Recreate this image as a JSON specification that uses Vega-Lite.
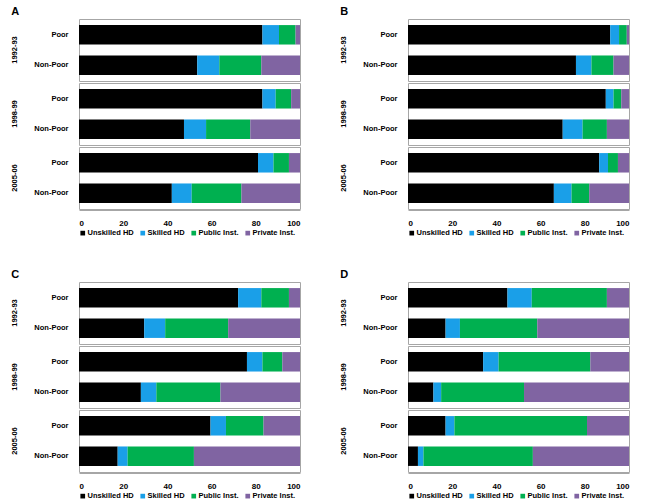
{
  "$schema": "https://vega.github.io/schema/vega-lite/v6.json",
  "background": "white",
  "padding": {"left": 11, "top": 5, "right": 5, "bottom": 5},
  "datasets": {
    "all": [
      {"panel": "A", "year": "1992-93", "group": "Poor", "Unskilled HD": 83, "Skilled HD": 7.5, "Public Inst.": 7.5, "Private Inst.": 2},
      {"panel": "A", "year": "1992-93", "group": "Non-Poor", "Unskilled HD": 53.5, "Skilled HD": 10, "Public Inst.": 19, "Private Inst.": 17.5},
      {"panel": "A", "year": "1998-99", "group": "Poor", "Unskilled HD": 83, "Skilled HD": 6, "Public Inst.": 7, "Private Inst.": 4},
      {"panel": "A", "year": "1998-99", "group": "Non-Poor", "Unskilled HD": 47.5, "Skilled HD": 10, "Public Inst.": 20, "Private Inst.": 22.5},
      {"panel": "A", "year": "2005-06", "group": "Poor", "Unskilled HD": 81, "Skilled HD": 7, "Public Inst.": 7, "Private Inst.": 5},
      {"panel": "A", "year": "2005-06", "group": "Non-Poor", "Unskilled HD": 42, "Skilled HD": 9, "Public Inst.": 22.5, "Private Inst.": 26.5},
      {"panel": "B", "year": "1992-93", "group": "Poor", "Unskilled HD": 91.5, "Skilled HD": 4, "Public Inst.": 3.5, "Private Inst.": 1},
      {"panel": "B", "year": "1992-93", "group": "Non-Poor", "Unskilled HD": 76, "Skilled HD": 7, "Public Inst.": 10, "Private Inst.": 7},
      {"panel": "B", "year": "1998-99", "group": "Poor", "Unskilled HD": 89.5, "Skilled HD": 3.5, "Public Inst.": 3.5, "Private Inst.": 3.5},
      {"panel": "B", "year": "1998-99", "group": "Non-Poor", "Unskilled HD": 70, "Skilled HD": 9, "Public Inst.": 11, "Private Inst.": 10},
      {"panel": "B", "year": "2005-06", "group": "Poor", "Unskilled HD": 86.5, "Skilled HD": 4, "Public Inst.": 4.5, "Private Inst.": 5},
      {"panel": "B", "year": "2005-06", "group": "Non-Poor", "Unskilled HD": 66, "Skilled HD": 8, "Public Inst.": 8, "Private Inst.": 18},
      {"panel": "C", "year": "1992-93", "group": "Poor", "Unskilled HD": 72, "Skilled HD": 10.5, "Public Inst.": 12.5, "Private Inst.": 5},
      {"panel": "C", "year": "1992-93", "group": "Non-Poor", "Unskilled HD": 29.5, "Skilled HD": 9.5, "Public Inst.": 28.5, "Private Inst.": 32.5},
      {"panel": "C", "year": "1998-99", "group": "Poor", "Unskilled HD": 76, "Skilled HD": 7, "Public Inst.": 9, "Private Inst.": 8},
      {"panel": "C", "year": "1998-99", "group": "Non-Poor", "Unskilled HD": 28, "Skilled HD": 7, "Public Inst.": 29, "Private Inst.": 36},
      {"panel": "C", "year": "2005-06", "group": "Poor", "Unskilled HD": 59.5, "Skilled HD": 7, "Public Inst.": 17, "Private Inst.": 16.5},
      {"panel": "C", "year": "2005-06", "group": "Non-Poor", "Unskilled HD": 17.5, "Skilled HD": 4.5, "Public Inst.": 30, "Private Inst.": 48},
      {"panel": "D", "year": "1992-93", "group": "Poor", "Unskilled HD": 45, "Skilled HD": 11, "Public Inst.": 34, "Private Inst.": 10},
      {"panel": "D", "year": "1992-93", "group": "Non-Poor", "Unskilled HD": 17, "Skilled HD": 6.5, "Public Inst.": 35, "Private Inst.": 41.5},
      {"panel": "D", "year": "1998-99", "group": "Poor", "Unskilled HD": 34, "Skilled HD": 7, "Public Inst.": 41.5, "Private Inst.": 17.5},
      {"panel": "D", "year": "1998-99", "group": "Non-Poor", "Unskilled HD": 11.5, "Skilled HD": 3.5, "Public Inst.": 37.5, "Private Inst.": 47.5},
      {"panel": "D", "year": "2005-06", "group": "Poor", "Unskilled HD": 17, "Skilled HD": 4, "Public Inst.": 60, "Private Inst.": 19},
      {"panel": "D", "year": "2005-06", "group": "Non-Poor", "Unskilled HD": 4.5, "Skilled HD": 2.5, "Public Inst.": 49.5, "Private Inst.": 43.5}
    ]
  },
  "columns": 2,
  "spacing": {"row": 31, "column": 39},
  "resolve": {"scale": {"color": "independent"}, "legend": {"color": "independent"}},
  "concat": [
    {
      "title": {"text": "A"},
      "data": {"name": "all"},
      "transform": [
        {"filter": "datum.panel === 'A'"},
        {"fold": ["Unskilled HD", "Skilled HD", "Public Inst\\.", "Private Inst\\."], "as": ["cat", "value"]}
      ],
      "facet": {"row": {"field": "year", "type": "nominal", "header": {"title": null}}},
      "spacing": 0,
      "spec": {
        "width": 221, "height": 62,
        "mark": {"type": "bar"},
        "encoding": {
          "y": {"field": "group", "type": "nominal", "sort": ["Poor", "Non-Poor"], "axis": {"title": null}, "scale": {"paddingInner": 0.36, "paddingOuter": 0.2}},
          "x": {"field": "value", "type": "quantitative", "stack": "zero", "scale": {"domain": [0, 100]}, "axis": {"title": null, "values": [0, 20, 40, 60, 80, 100]}},
          "color": {"field": "cat", "type": "nominal", "scale": {"domain": ["Unskilled HD", "Skilled HD", "Public Inst.", "Private Inst."], "range": ["#000000", "#1a9fe8", "#00b050", "#8064a2"]}, "legend": {"title": null, "orient": "bottom", "direction": "horizontal"}},
          "order": {"field": "cat", "sort": "descending"}
        }
      }
    },
    {
      "title": {"text": "B"},
      "data": {"name": "all"},
      "transform": [
        {"filter": "datum.panel === 'B'"},
        {"fold": ["Unskilled HD", "Skilled HD", "Public Inst\\.", "Private Inst\\."], "as": ["cat", "value"]}
      ],
      "facet": {"row": {"field": "year", "type": "nominal", "header": {"title": null}}},
      "spacing": 0,
      "spec": {
        "width": 221, "height": 62,
        "mark": {"type": "bar"},
        "encoding": {
          "y": {"field": "group", "type": "nominal", "sort": ["Poor", "Non-Poor"], "axis": {"title": null}, "scale": {"paddingInner": 0.36, "paddingOuter": 0.2}},
          "x": {"field": "value", "type": "quantitative", "stack": "zero", "scale": {"domain": [0, 100]}, "axis": {"title": null, "values": [0, 20, 40, 60, 80, 100]}},
          "color": {"field": "cat", "type": "nominal", "scale": {"domain": ["Unskilled HD", "Skilled HD", "Public Inst.", "Private Inst."], "range": ["#000000", "#1a9fe8", "#00b050", "#8064a2"]}, "legend": {"title": null, "orient": "bottom", "direction": "horizontal"}},
          "order": {"field": "cat", "sort": "descending"}
        }
      }
    },
    {
      "title": {"text": "C"},
      "data": {"name": "all"},
      "transform": [
        {"filter": "datum.panel === 'C'"},
        {"fold": ["Unskilled HD", "Skilled HD", "Public Inst\\.", "Private Inst\\."], "as": ["cat", "value"]}
      ],
      "facet": {"row": {"field": "year", "type": "nominal", "header": {"title": null}}},
      "spacing": 0,
      "spec": {
        "width": 221, "height": 62,
        "mark": {"type": "bar"},
        "encoding": {
          "y": {"field": "group", "type": "nominal", "sort": ["Poor", "Non-Poor"], "axis": {"title": null}, "scale": {"paddingInner": 0.36, "paddingOuter": 0.2}},
          "x": {"field": "value", "type": "quantitative", "stack": "zero", "scale": {"domain": [0, 100]}, "axis": {"title": null, "values": [0, 20, 40, 60, 80, 100]}},
          "color": {"field": "cat", "type": "nominal", "scale": {"domain": ["Unskilled HD", "Skilled HD", "Public Inst.", "Private Inst."], "range": ["#000000", "#1a9fe8", "#00b050", "#8064a2"]}, "legend": {"title": null, "orient": "bottom", "direction": "horizontal"}},
          "order": {"field": "cat", "sort": "descending"}
        }
      }
    },
    {
      "title": {"text": "D"},
      "data": {"name": "all"},
      "transform": [
        {"filter": "datum.panel === 'D'"},
        {"fold": ["Unskilled HD", "Skilled HD", "Public Inst\\.", "Private Inst\\."], "as": ["cat", "value"]}
      ],
      "facet": {"row": {"field": "year", "type": "nominal", "header": {"title": null}}},
      "spacing": 0,
      "spec": {
        "width": 221, "height": 62,
        "mark": {"type": "bar"},
        "encoding": {
          "y": {"field": "group", "type": "nominal", "sort": ["Poor", "Non-Poor"], "axis": {"title": null}, "scale": {"paddingInner": 0.36, "paddingOuter": 0.2}},
          "x": {"field": "value", "type": "quantitative", "stack": "zero", "scale": {"domain": [0, 100]}, "axis": {"title": null, "values": [0, 20, 40, 60, 80, 100]}},
          "color": {"field": "cat", "type": "nominal", "scale": {"domain": ["Unskilled HD", "Skilled HD", "Public Inst.", "Private Inst."], "range": ["#000000", "#1a9fe8", "#00b050", "#8064a2"]}, "legend": {"title": null, "orient": "bottom", "direction": "horizontal"}},
          "order": {"field": "cat", "sort": "descending"}
        }
      }
    }
  ],
  "config": {
    "font": "Liberation Sans",
    "view": {"stroke": "#a6a6a6", "strokeWidth": 1},
    "title": {"anchor": "start", "frame": "bounds", "fontSize": 11, "fontWeight": "bold", "color": "#000000", "offset": 2},
    "header": {"labelAngle": -90, "labelFontSize": 7.5, "labelFontWeight": "bold", "labelColor": "#000000", "labelPadding": 11},
    "axis": {"grid": false, "labelFontSize": 7.5, "labelFontWeight": "bold", "labelColor": "#000000", "domainColor": "#a6a6a6", "tickColor": "#a6a6a6", "ticks": false, "labelPadding": 6},
    "axisY": {"domain": false, "labelFontSize": 7.5, "labelPadding": 10},
    "axisX": {"domain": true, "labelFontSize": 8, "labelPadding": 9},
    "legend": {"symbolType": "square", "symbolSize": 22, "labelFontSize": 7.5, "labelFontWeight": "bold", "labelColor": "#000000", "columnPadding": 5, "symbolOffset": 0, "labelOffset": 1, "offset": 2, "padding": 0}
  }
}
